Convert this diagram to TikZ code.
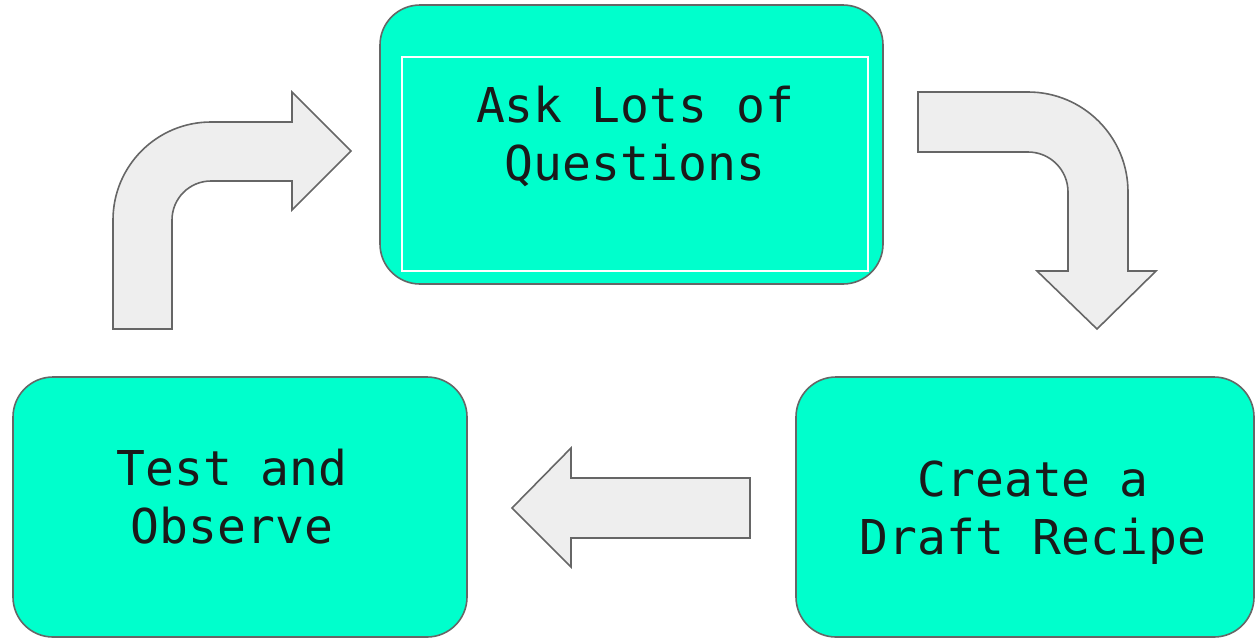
\documentclass[tikz,border=0pt]{standalone}
\usepackage{fontspec}
\newfontfamily\monofont{DejaVu Sans Mono}
\definecolor{boxfill}{HTML}{00FFCC}
\definecolor{edgegray}{HTML}{666666}
\definecolor{arrowfill}{HTML}{EEEEEE}
\definecolor{txt}{HTML}{1A1A1A}
\tikzset{
  stepbox/.style={draw=edgegray, line width=1.6pt, fill=boxfill, rounded corners=40pt, inner sep=0pt},
  steplabel/.style={font=\monofont\fontsize{48}{58}\selectfont, text=txt, align=center, inner sep=0pt, anchor=base},
  blockarrow/.style={draw=edgegray, line width=1.6pt, fill=arrowfill, line join=miter}
}
\begin{document}
\begin{tikzpicture}[x=1pt, y=-1pt]
\useasboundingbox (0,0) rectangle (1255,638);
% boxes
\node[stepbox, minimum width=503pt, minimum height=279pt] (ask) at (631.5,144.5) {};
\draw[white, line width=1.2pt] (402,57) rectangle (868,271);
\node[stepbox, minimum width=454pt, minimum height=260pt] (test) at (240,507) {};
\node[stepbox, minimum width=458pt, minimum height=260pt] (draft) at (1025,507) {};
% labels (base anchor = baseline of the last line)
\node[steplabel] (asklabel) at (635,180) {Ask Lots of\\Questions};
\node[steplabel] (testlabel) at (232,543) {Test and\\Observe};
\node[steplabel] (draftlabel) at (1033,554) {Create a\\Draft Recipe};
% curved arrow left (up and right)
\draw[blockarrow] (113,329) -- (113,220) arc (180:270:98) -- (292,122) -- (292,92)
  -- (351,151) -- (292,210) -- (292,181) -- (211,181) arc (270:180:39) -- (172,329) -- cycle;
% curved arrow right (right and down)
\draw[blockarrow] (918,92) -- (1028,92) arc (270:360:100) -- (1128,271) -- (1156,271)
  -- (1097,329) -- (1037,271) -- (1068,271) -- (1068,192) arc (0:-90:40) -- (918,152) -- cycle;
% straight arrow left
\draw[blockarrow] (750,478) -- (571,478) -- (571,448) -- (512,508) -- (571,567) -- (571,538) -- (750,538) -- cycle;
\end{tikzpicture}
\end{document}
